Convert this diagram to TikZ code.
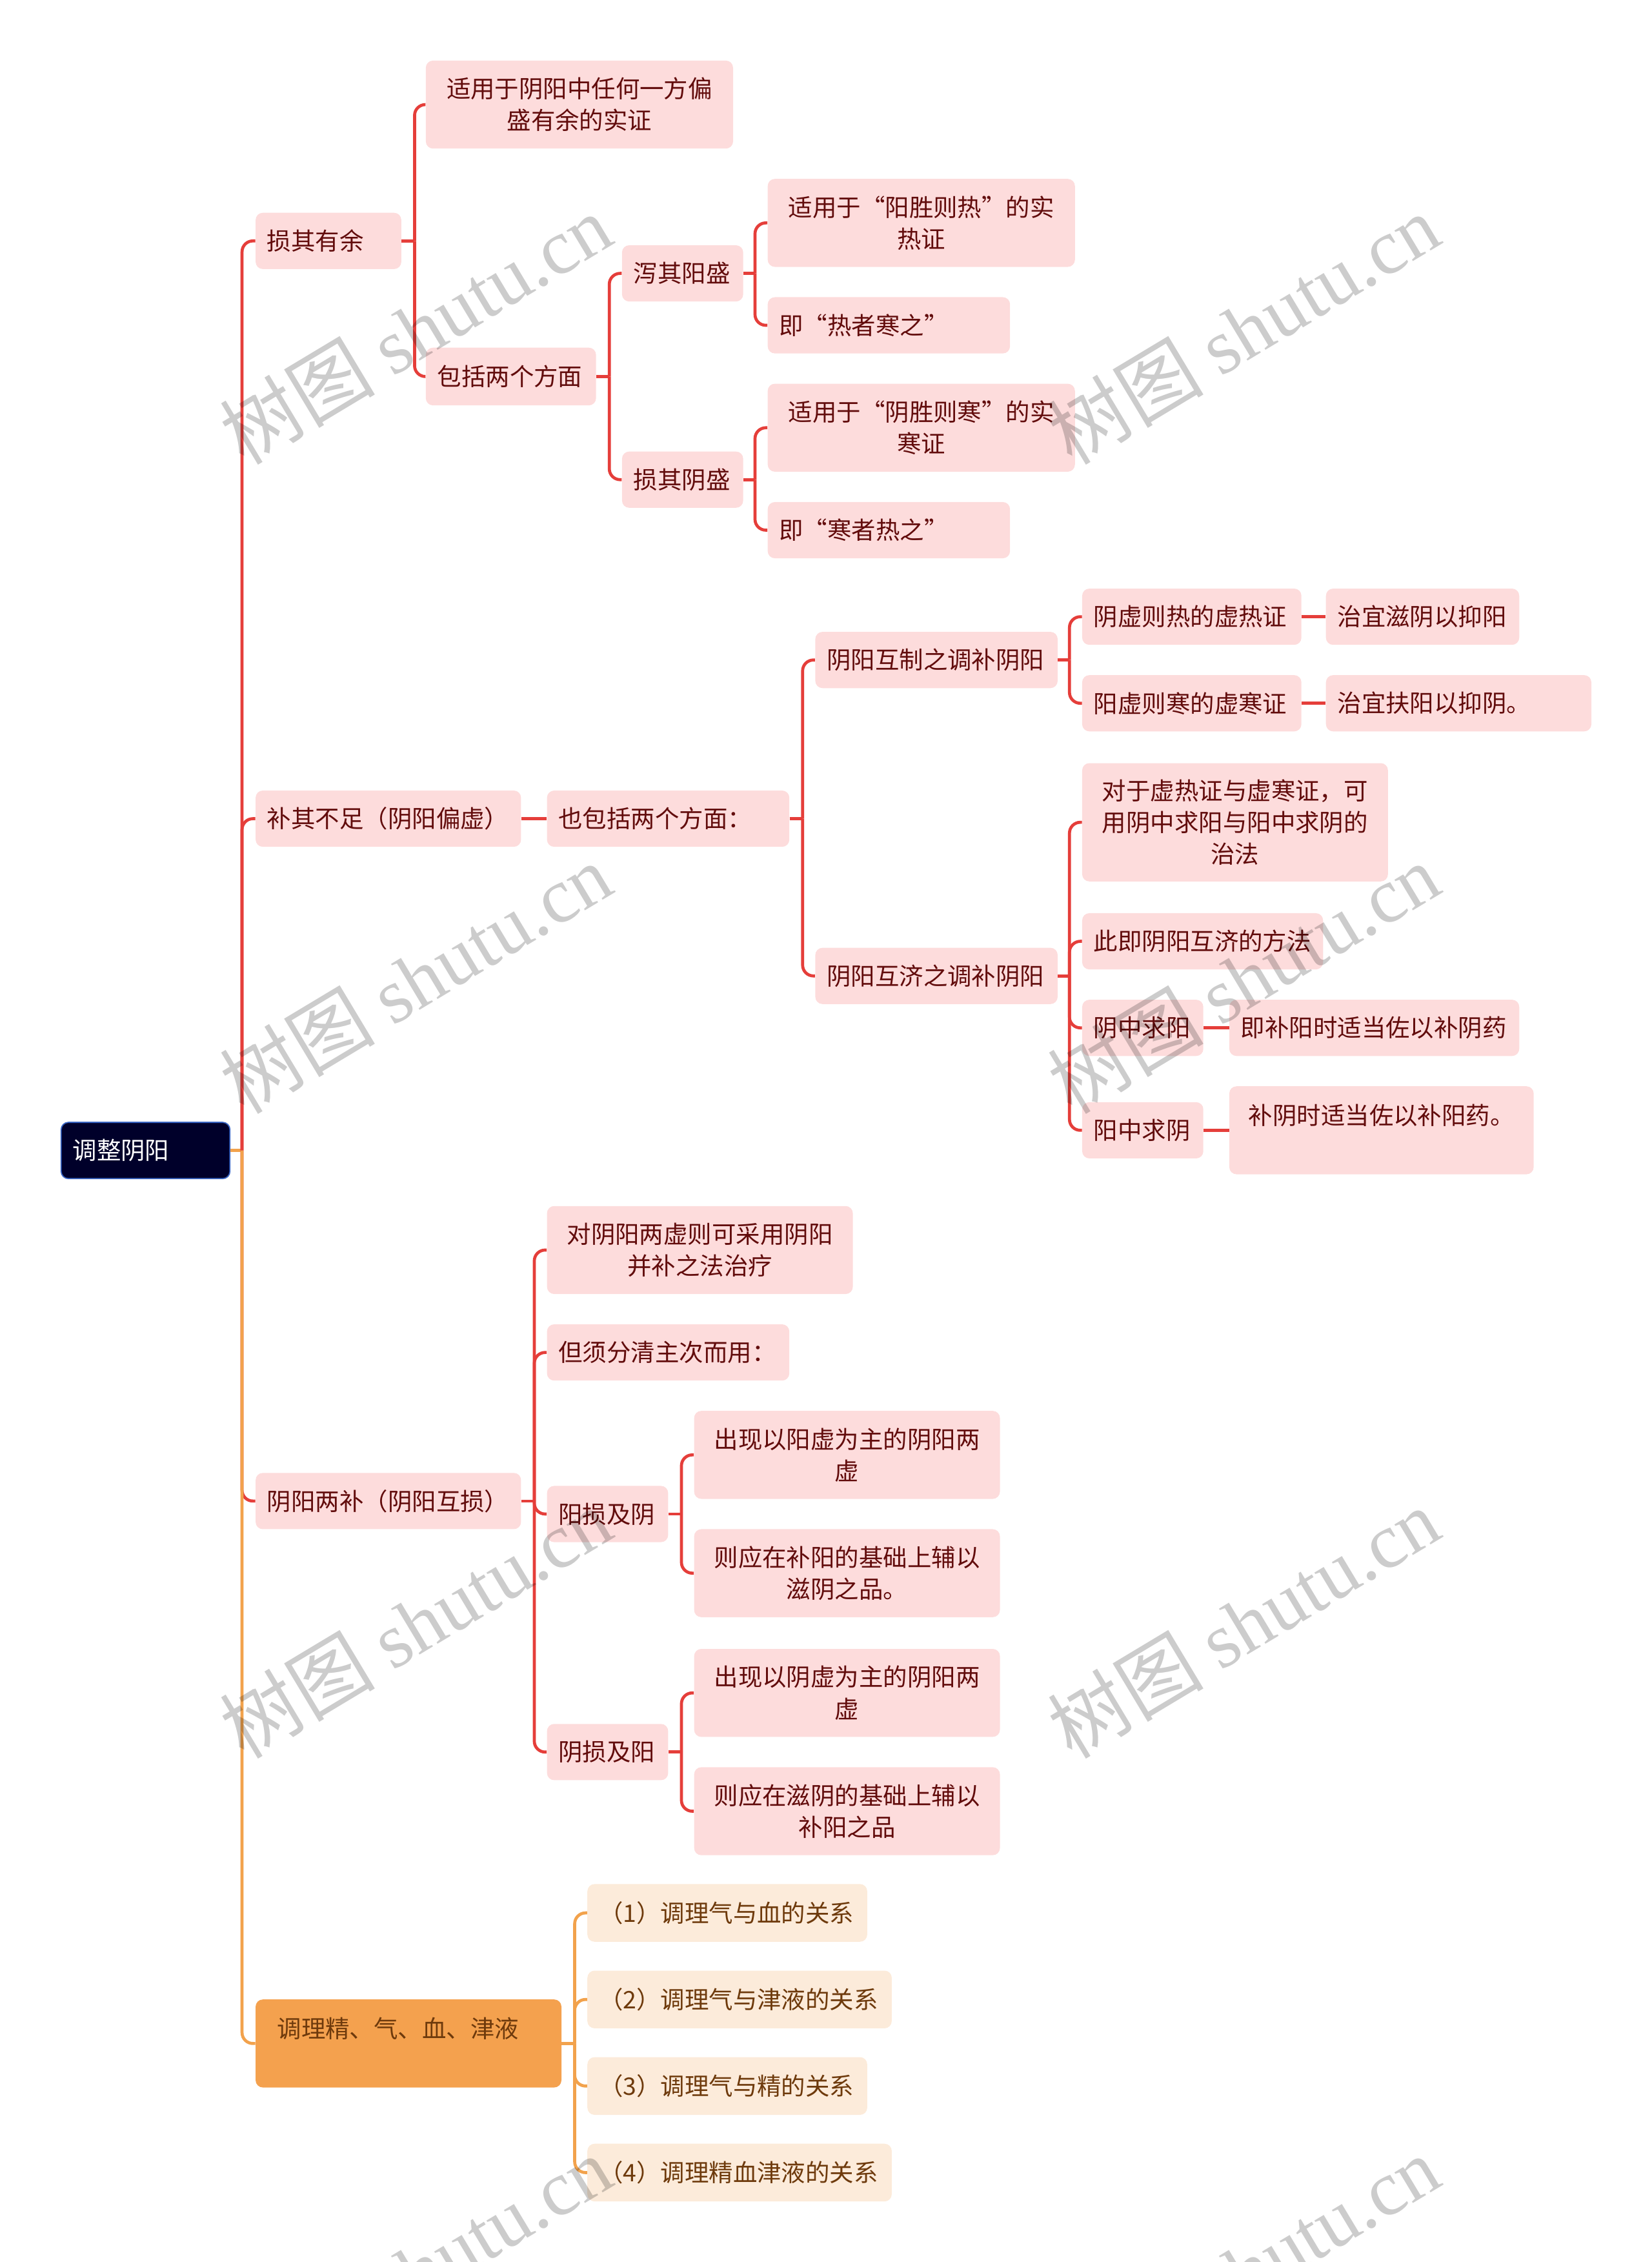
\documentclass[tikz,border=0pt]{standalone}
\usepackage{fontspec}
\setmainfont{Noto Sans CJK SC}
\newfontfamily\wmfont{Liberation Serif}
\definecolor{pinkbg}{HTML}{FDDCDC}
\definecolor{pinktxt}{HTML}{620C0C}
\definecolor{linered}{HTML}{E53E3A}
\definecolor{lineorg}{HTML}{F2A24C}
\definecolor{orgbg}{HTML}{F4A14E}
\definecolor{peachbg}{HTML}{FCEBDA}
\definecolor{browntxt}{HTML}{6E3A0C}
\definecolor{rootbg}{HTML}{00002A}
\definecolor{rootln}{HTML}{3A66C4}
\newcommand\fs{\fontsize{16.75}{22}\selectfont}
\tikzset{
  topic/.style={rounded corners=5pt, anchor=west, inner xsep=8pt, inner ysep=0pt,
    font=\fs, fill=pinkbg, text=pinktxt, align=left},
  wh/.style 2 args={text width=#1pt, minimum height=#2pt},
  peach/.style={topic, fill=peachbg, text=browntxt},
  rlink/.style={draw=linered, line width=2.1pt, rounded corners=7.5pt},
  olink/.style={draw=lineorg, line width=2.1pt, rounded corners=7.5pt},
  wmark/.style={rotate=31, text=black, opacity=0.2, font=\fontsize{54}{60}\selectfont}
}
\begin{document}
\begin{tikzpicture}[x=1pt,y=-1pt]
  \useasboundingbox (0,0) rectangle (1145,1568);
  % root
  \node[topic, wh={101}{39}, fill=rootbg, draw=rootln, line width=0.8pt, text=white] (root) at (42,797.5) {调整阴阳};
  % first level
  \node[topic, wh={85}{39}] (syy) at (177,167) {损其有余};
  \node[topic, wh={168}{39}] (bqbz) at (177,567.5) {补其不足（阴阳偏虚）};
  \node[topic, wh={168}{39}] (yylb) at (177,1040.5) {阴阳两补（阴阳互损）};
  \node[topic, wh={182}{61}, inner xsep=15pt, fill=orgbg, text=browntxt] (tljq) at (177,1416.5) {调理精、气、血、津液\\ ~};
  % 损其有余
  \node[topic, wh={197}{61}, align=center] (syy1) at (295,72.5) {适用于阴阳中任何一方偏\\盛有余的实证};
  \node[topic, wh={102}{40}] (syy2) at (295,261) {包括两个方面};
  \node[topic, wh={68}{39}] (xqys) at (431,189.5) {泻其阳盛};
  \node[topic, wh={68}{39}] (sqys) at (431,332.5) {损其阴盛};
  \node[topic, wh={197}{61}, align=center] (xqys1) at (532,154.5) {适用于“阳胜则热”的实\\热证};
  \node[topic, wh={152}{39}] (xqys2) at (532,225.5) {即“热者寒之”};
  \node[topic, wh={197}{61}, align=center] (sqys1) at (532,296.5) {适用于“阴胜则寒”的实\\寒证};
  \node[topic, wh={152}{39}] (sqys2) at (532,367.5) {即“寒者热之”};
  % 补其不足
  \node[topic, wh={152}{39}] (bqbz1) at (379,567.5) {也包括两个方面：};
  \node[topic, wh={152}{39}] (huzhi) at (565,457.5) {阴阳互制之调补阴阳};
  \node[topic, wh={152}{39}] (huji) at (565,676.5) {阴阳互济之调补阴阳};
  \node[topic, wh={136}{39}] (yxzr) at (750,427.5) {阴虚则热的虚热证};
  \node[topic, wh={136}{39}] (yxzh) at (750,487.5) {阳虚则寒的虚寒证};
  \node[topic, wh={118}{39}] (yxzr1) at (919,427.5) {治宜滋阴以抑阳};
  \node[topic, wh={168}{39}] (yxzh1) at (919,487.5) {治宜扶阳以抑阴。};
  \node[topic, wh={196}{82}, align=center] (huji1) at (750,570) {对于虚热证与虚寒证，可\\用阴中求阳与阳中求阴的\\治法};
  \node[topic, wh={151}{39}] (huji2) at (750,652.5) {此即阴阳互济的方法};
  \node[topic, wh={68}{39}] (yzqy) at (750,712.5) {阴中求阳};
  \node[topic, wh={68}{39}] (yzqyin) at (750,783.5) {阳中求阴};
  \node[topic, wh={185}{39}] (yzqy1) at (852,712.5) {即补阳时适当佐以补阴药};
  \node[topic, wh={195}{61}, align=center] (yzqyin1) at (852,783.5) {补阴时适当佐以补阳药。\\ ~};
  % 阴阳两补
  \node[topic, wh={196}{61}, align=center] (yylb1) at (379,866.5) {对阴阳两虚则可采用阴阳\\并补之法治疗};
  \node[topic, wh={152}{39}] (yylb2) at (379,937.5) {但须分清主次而用：};
  \node[topic, wh={68}{39}] (ysjy) at (379,1049.5) {阳损及阴};
  \node[topic, wh={68}{39}] (ysjyang) at (379,1214.5) {阴损及阳};
  \node[topic, wh={196}{61}, align=center] (ysjy1) at (481,1008.5) {出现以阳虚为主的阴阳两\\虚};
  \node[topic, wh={196}{61}, align=center] (ysjy2) at (481,1090.5) {则应在补阳的基础上辅以\\滋阴之品。};
  \node[topic, wh={196}{61}, align=center] (ysjyang1) at (481,1173.5) {出现以阴虚为主的阴阳两\\虚};
  \node[topic, wh={196}{61}, align=center] (ysjyang2) at (481,1255.5) {则应在滋阴的基础上辅以\\补阳之品};
  % 调理精、气、血、津液
  \node[peach, wh={178}{40}] (tljq1) at (407,1326) {（1）调理气与血的关系};
  \node[peach, wh={195}{40}] (tljq2) at (407,1386) {（2）调理气与津液的关系};
  \node[peach, wh={178}{40}] (tljq3) at (407,1446) {（3）调理气与精的关系};
  \node[peach, wh={195}{40}] (tljq4) at (407,1506) {（4）调理精血津液的关系};
  % connectors
  \draw[olink] (root.east) -- ++(8,0);
  \draw[rlink] (root.east) ++(8,0) |- (syy.west);
  \draw[rlink] (root.east) ++(8,0) |- (bqbz.west);
  \draw[rlink] (root.east) ++(8,0) |- (yylb.west);
  \draw[olink] (root.east) ++(8,0) |- (tljq.west);
  \draw[rlink] (syy.east) -- ++(9,0);
  \draw[rlink] (syy.east) ++(9,0) |- (syy1.west);
  \draw[rlink] (syy.east) ++(9,0) |- (syy2.west);
  \draw[rlink] (syy2.east) -- ++(9,0);
  \draw[rlink] (syy2.east) ++(9,0) |- (xqys.west);
  \draw[rlink] (syy2.east) ++(9,0) |- (sqys.west);
  \draw[rlink] (xqys.east) -- ++(8,0);
  \draw[rlink] (xqys.east) ++(8,0) |- (xqys1.west);
  \draw[rlink] (xqys.east) ++(8,0) |- (xqys2.west);
  \draw[rlink] (sqys.east) -- ++(8,0);
  \draw[rlink] (sqys.east) ++(8,0) |- (sqys1.west);
  \draw[rlink] (sqys.east) ++(8,0) |- (sqys2.west);
  \draw[rlink] (bqbz.east) -- (bqbz1.west);
  \draw[rlink] (bqbz1.east) -- ++(9,0);
  \draw[rlink] (bqbz1.east) ++(9,0) |- (huzhi.west);
  \draw[rlink] (bqbz1.east) ++(9,0) |- (huji.west);
  \draw[rlink] (huzhi.east) -- ++(8,0);
  \draw[rlink] (huzhi.east) ++(8,0) |- (yxzr.west);
  \draw[rlink] (huzhi.east) ++(8,0) |- (yxzh.west);
  \draw[rlink] (yxzr.east) -- (yxzr1.west);
  \draw[rlink] (yxzh.east) -- (yxzh1.west);
  \draw[rlink] (huji.east) -- ++(8,0);
  \draw[rlink] (huji.east) ++(8,0) |- (huji1.west);
  \draw[rlink] (huji.east) ++(8,0) |- (huji2.west);
  \draw[rlink] (huji.east) ++(8,0) |- (yzqy.west);
  \draw[rlink] (huji.east) ++(8,0) |- (yzqyin.west);
  \draw[rlink] (yzqy.east) -- (yzqy1.west);
  \draw[rlink] (yzqyin.east) -- (yzqyin1.west);
  \draw[rlink] (yylb.east) -- ++(9,0);
  \draw[rlink] (yylb.east) ++(9,0) |- (yylb1.west);
  \draw[rlink] (yylb.east) ++(9,0) |- (yylb2.west);
  \draw[rlink] (yylb.east) ++(9,0) |- (ysjy.west);
  \draw[rlink] (yylb.east) ++(9,0) |- (ysjyang.west);
  \draw[rlink] (ysjy.east) -- ++(9,0);
  \draw[rlink] (ysjy.east) ++(9,0) |- (ysjy1.west);
  \draw[rlink] (ysjy.east) ++(9,0) |- (ysjy2.west);
  \draw[rlink] (ysjyang.east) -- ++(9,0);
  \draw[rlink] (ysjyang.east) ++(9,0) |- (ysjyang1.west);
  \draw[rlink] (ysjyang.east) ++(9,0) |- (ysjyang2.west);
  \draw[olink] (tljq.east) -- ++(9,0);
  \draw[olink] (tljq.east) ++(9,0) |- (tljq1.west);
  \draw[olink] (tljq.east) ++(9,0) |- (tljq2.west);
  \draw[olink] (tljq.east) ++(9,0) |- (tljq3.west);
  \draw[olink] (tljq.east) ++(9,0) |- (tljq4.west);
  % watermark
  \node[wmark] (wm1) at (288,228) {树图 {\wmfont shutu.cn}};
  \node[wmark] (wm2) at (862,228) {树图 {\wmfont shutu.cn}};
  \node[wmark] (wm3) at (288,678) {树图 {\wmfont shutu.cn}};
  \node[wmark] (wm4) at (862,678) {树图 {\wmfont shutu.cn}};
  \node[wmark] (wm5) at (288,1125) {树图 {\wmfont shutu.cn}};
  \node[wmark] (wm6) at (862,1125) {树图 {\wmfont shutu.cn}};
  \node[wmark] (wm7) at (288,1574) {树图 {\wmfont shutu.cn}};
  \node[wmark] (wm8) at (862,1574) {树图 {\wmfont shutu.cn}};
\end{tikzpicture}
\end{document}
